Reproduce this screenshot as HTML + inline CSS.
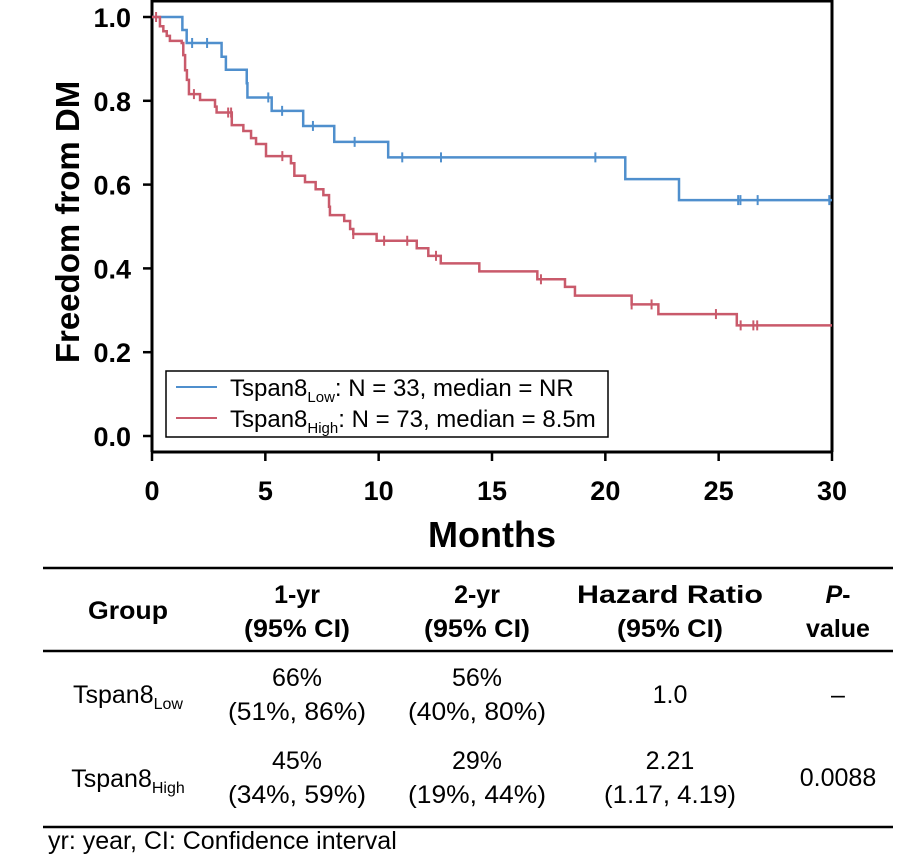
<!DOCTYPE html>
<html><head><meta charset="utf-8"><style>
html,body{margin:0;padding:0;background:#fff;}
svg{display:block;font-family:"Liberation Sans",Arial,sans-serif;}
</style></head><body>
<svg id="chart" width="900" height="856" viewBox="0 0 900 856">
<g id="plot"></g>
<g id="table">
  <line x1="43" y1="568" x2="893" y2="568" stroke="#000" stroke-width="2.5"/>
  <line x1="43" y1="651" x2="893" y2="651" stroke="#000" stroke-width="2.5"/>
  <line x1="43" y1="827" x2="893" y2="827" stroke="#000" stroke-width="2.5"/>
  <g font-weight="bold" font-size="25" text-anchor="middle">
    <text x="128" y="619" textLength="80" lengthAdjust="spacingAndGlyphs">Group</text>
    <text x="297" y="603">1-yr</text>
    <text x="297" y="637" textLength="106" lengthAdjust="spacingAndGlyphs">(95% CI)</text>
    <text x="477" y="603">2-yr</text>
    <text x="477" y="637" textLength="106" lengthAdjust="spacingAndGlyphs">(95% CI)</text>
    <text x="670" y="603" textLength="186" lengthAdjust="spacingAndGlyphs">Hazard Ratio</text>
    <text x="670" y="637" textLength="106" lengthAdjust="spacingAndGlyphs">(95% CI)</text>
    <text x="838" y="603"><tspan font-style="italic">P</tspan>-</text>
    <text x="838" y="637">value</text>
  </g>
  <g font-size="25" text-anchor="middle">
    <text x="128" y="703">Tspan8<tspan font-size="16" dy="6">Low</tspan></text>
    <text x="297" y="686">66%</text>
    <text x="297" y="720" textLength="138" lengthAdjust="spacingAndGlyphs">(51%, 86%)</text>
    <text x="477" y="686">56%</text>
    <text x="477" y="720" textLength="138" lengthAdjust="spacingAndGlyphs">(40%, 80%)</text>
    <text x="670" y="703">1.0</text>
    <text x="838" y="703">–</text>
    <text x="128" y="787">Tspan8<tspan font-size="16" dy="6">High</tspan></text>
    <text x="297" y="769">45%</text>
    <text x="297" y="803" textLength="138" lengthAdjust="spacingAndGlyphs">(34%, 59%)</text>
    <text x="477" y="769">29%</text>
    <text x="477" y="803" textLength="138" lengthAdjust="spacingAndGlyphs">(19%, 44%)</text>
    <text x="670" y="769">2.21</text>
    <text x="670" y="803" textLength="132" lengthAdjust="spacingAndGlyphs">(1.17, 4.19)</text>
    <text x="838" y="786">0.0088</text>
  </g>
  <text x="48" y="849" font-size="25">yr: year, CI: Confidence interval</text>
</g>
</svg>
<script>
const xTicks = [0, 5, 10, 15, 20, 25, 30];
const yTicks = [0.0, 0.2, 0.4, 0.6, 0.8, 1.0];
const lowTimes = [1.34, 1.53, 3.07, 3.26, 4.18, 4.21, 5.28, 6.67, 8.04, 10.42, 20.88, 23.25];
const lowSurv = [0.969, 0.938, 0.905, 0.874, 0.842, 0.808, 0.776, 0.740, 0.702, 0.665, 0.613, 0.563];
const lowCensor = [1.77, 2.43, 5.13, 5.74, 7.10, 8.94, 11.04, 12.75, 19.56, 25.86, 25.96, 26.72, 29.88];
const highTimes = [0.35, 0.50, 0.65, 0.79, 1.31, 1.38, 1.46, 1.54, 1.63, 2.12, 2.78, 2.85, 3.52, 4.03, 4.37, 4.59, 5.03, 6.13, 6.28, 6.75, 7.22, 7.56, 7.81, 7.85, 8.48, 8.74, 8.88, 9.91, 11.68, 12.19, 12.74, 14.44, 17.00, 18.22, 18.66, 21.16, 22.34, 25.80];
const highSurv = [0.978, 0.966, 0.955, 0.943, 0.938, 0.909, 0.873, 0.850, 0.816, 0.802, 0.786, 0.772, 0.742, 0.728, 0.711, 0.697, 0.668, 0.651, 0.621, 0.606, 0.589, 0.575, 0.547, 0.527, 0.513, 0.494, 0.482, 0.466, 0.448, 0.430, 0.412, 0.393, 0.374, 0.356, 0.335, 0.314, 0.291, 0.264];
const highCensor = [0.18, 1.85, 3.36, 3.49, 5.75, 8.88, 10.24, 11.26, 12.53, 17.16, 21.16, 22.04, 24.88, 25.97, 26.53, 26.70];

const NS = 'http://www.w3.org/2000/svg';
const X0 = 152, X1 = 832, Y0 = 436, Y1 = 17, XMAX = 30;
const sx = t => X0 + (X1 - X0) * t / XMAX;
const sy = v => Y0 - (Y0 - Y1) * v;
const plot = document.getElementById('plot');
function mk(tag, attrs, parent) {
  const e = document.createElementNS(NS, tag);
  for (const k in attrs) e.setAttribute(k, attrs[k]);
  (parent || plot).appendChild(e);
  return e;
}
const frame = mk('path', {d: `M${X0} 452 L${X0} 1 L${X1} 1 L${X1} 452 M${X0} 452 L${X1} 452`, fill: 'none', stroke: '#000', 'stroke-width': 3});


yTicks.forEach(v => {
  const l = mk('line', {x1: X0 - 9, x2: X0, y1: sy(v), y2: sy(v), stroke: '#000', 'stroke-width': 2.5});
  
  
  const t = mk('text', {x: 131, y: sy(v) + 10, 'text-anchor': 'end', 'font-size': 27, 'font-weight': 'bold'});
  t.textContent = v.toFixed(1);
  
  
});
xTicks.forEach(v => {
  const l = mk('line', {x1: sx(v), x2: sx(v), y1: 452, y2: 461, stroke: '#000', 'stroke-width': 2.5});
  
  
  const t = mk('text', {x: sx(v), y: 500, 'text-anchor': 'middle', 'font-size': 27, 'font-weight': 'bold'});
  t.textContent = String(v);
  
  
});
const xt = mk('text', {x: 492, y: 547, 'text-anchor': 'middle', 'font-size': 36, 'font-weight': 'bold'});
xt.textContent = 'Months';


const yt = mk('text', {x: 0, y: 0, 'text-anchor': 'middle', 'font-size': 33, 'font-weight': 'bold', transform: 'translate(79,222) rotate(-90)'});
yt.textContent = 'Freedom from DM';



function stepPath(times, surv) {
  let d = `M${sx(0)} ${sy(1)}`, cur = 1;
  times.forEach((t, i) => { d += ` L${sx(t)} ${sy(cur)} L${sx(t)} ${sy(surv[i])}`; cur = surv[i]; });
  d += ` L${sx(XMAX)} ${sy(cur)}`;
  return d;
}
function survAt(times, surv, t) {
  let s = 1;
  times.forEach((tt, i) => { if (tt <= t) s = surv[i]; });
  return s;
}
function series(times, surv, cens, color, name) {
  const p = mk('path', {d: stepPath(times, surv), fill: 'none', stroke: color, 'stroke-width': 2.5});
  
  
  cens.forEach(c => {
    const y = sy(survAt(times, surv, c));
    const m = mk('line', {x1: sx(c), x2: sx(c), y1: y - 5, y2: y + 5, stroke: color, 'stroke-width': 2});
    
    
  });
}
series(lowTimes, lowSurv, lowCensor, '#4f8fcd', 'tspan8-low');
series(highTimes, highSurv, highCensor, '#c95a6b', 'tspan8-high');

const lg = mk('g', {});


const box = mk('rect', {x: 166, y: 371, width: 442, height: 66, fill: '#fff', stroke: '#000', 'stroke-width': 1.5}, lg);


[['#4f8fcd', 387, 'Low', ': N = 33, median = NR', 'legend-entry-low'], ['#c95a6b', 418, 'High', ': N = 73, median = 8.5m', 'legend-entry-high']].forEach(e => {
  const g = mk('g', {}, lg);
  
  
  mk('line', {x1: 176, x2: 217, y1: e[1], y2: e[1], stroke: e[0], 'stroke-width': 2}, g);
  const t = mk('text', {x: 230, y: e[1] + 9, 'font-size': 24}, g);
  t.innerHTML = 'Tspan8<tspan font-size="15" dy="6">' + e[2] + '</tspan><tspan dy="-6">' + e[3] + '</tspan>';
});
</script>
</body></html>
